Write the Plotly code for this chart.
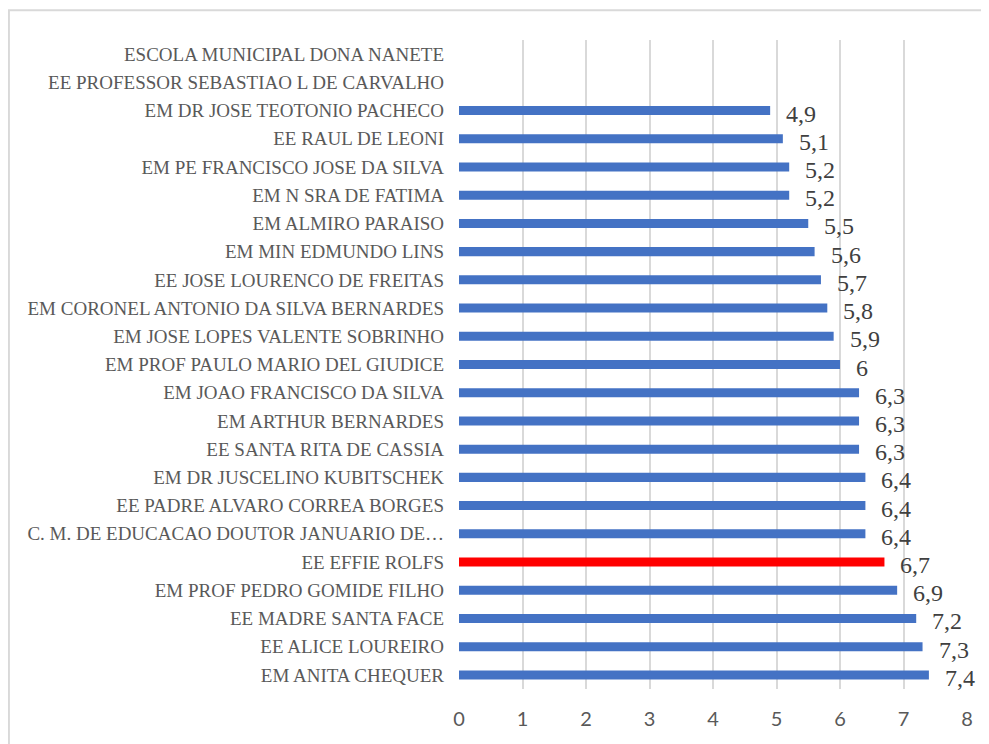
import plotly.graph_objs as go

# schools, bottom to top (as drawn)
schools = [
    'EM ANITA CHEQUER',
    'EE ALICE LOUREIRO',
    'EE MADRE SANTA FACE',
    'EM PROF PEDRO GOMIDE FILHO',
    'EE EFFIE ROLFS',
    'C. M. DE EDUCACAO DOUTOR JANUARIO DE…',
    'EE PADRE ALVARO CORREA BORGES',
    'EM DR JUSCELINO KUBITSCHEK',
    'EE SANTA RITA DE CASSIA',
    'EM ARTHUR BERNARDES',
    'EM JOAO FRANCISCO DA SILVA',
    'EM PROF PAULO MARIO DEL GIUDICE',
    'EM JOSE LOPES VALENTE SOBRINHO',
    'EM CORONEL ANTONIO DA SILVA BERNARDES',
    'EE JOSE LOURENCO DE FREITAS',
    'EM MIN EDMUNDO LINS',
    'EM ALMIRO PARAISO',
    'EM N SRA DE FATIMA',
    'EM PE FRANCISCO JOSE DA SILVA',
    'EE RAUL DE LEONI',
    'EM DR JOSE TEOTONIO PACHECO',
    'EE PROFESSOR SEBASTIAO L DE CARVALHO',
    'ESCOLA MUNICIPAL DONA NANETE',
]
scores = [7.4, 7.3, 7.2, 6.9, 6.7, 6.4, 6.4, 6.4, 6.3, 6.3, 6.3, 6.0,
          5.9, 5.8, 5.7, 5.6, 5.5, 5.2, 5.2, 5.1, 4.9, None, None]
highlight = 'EE EFFIE ROLFS'

colors = ['#FF0000' if s == highlight else '#4472C4' for s in schools]

trace = go.Bar(x=scores, y=schools, orientation='h', width=0.32,
               marker={'color': colors, 'line': {'width': 0}},
               hoverinfo='x+y')

# data labels, decimal comma
annotations = []
for s, v in zip(schools, scores):
    if v is None:
        continue
    label = ('%g' % v).replace('.', ',')
    annotations.append(dict(x=v, y=s, text=label, showarrow=False,
                            xanchor='left', xshift=14, yshift=-3,
                            font={'family': 'Liberation Serif', 'size': 24, 'color': '#404040'}))

# light grey frame round the chart
frame = dict(type='rect', xref='paper', yref='paper',
             x0=-0.886, x1=1.2, y0=-0.3, y1=1.046,
             line={'color': '#D9D9D9', 'width': 2}, fillcolor='rgba(0,0,0,0)', layer='below')

# page body has an 8px margin, so the figure is a bit smaller than the window
layout = go.Layout(
    width=981, height=736,
    margin={'l': 451, 'r': 22, 't': 32, 'b': 55},
    paper_bgcolor='white', plot_bgcolor='white',
    showlegend=False,
    bargap=0.68,
    xaxis={'range': [0, 8], 'dtick': 1, 'showgrid': True, 'gridcolor': '#D9D9D9', 'gridwidth': 2,
           'zeroline': False, 'showline': False, 'ticks': '',
           'tickfont': {'family': 'Lato', 'size': 20, 'color': '#595959'},
           'ticklabelstandoff': 16, 'fixedrange': True},
    yaxis={'categoryorder': 'array', 'categoryarray': schools, 'showgrid': False,
           'zeroline': False, 'showline': False, 'ticks': '',
           'tickfont': {'family': 'Liberation Serif', 'size': 19, 'color': '#595959'},
           'ticklabelstandoff': 14, 'range': [-0.5, len(schools) - 0.5]},
    annotations=annotations,
    shapes=[frame],
)

fig = go.Figure(data=[trace], layout=layout)
fig.write_html('out.html')
